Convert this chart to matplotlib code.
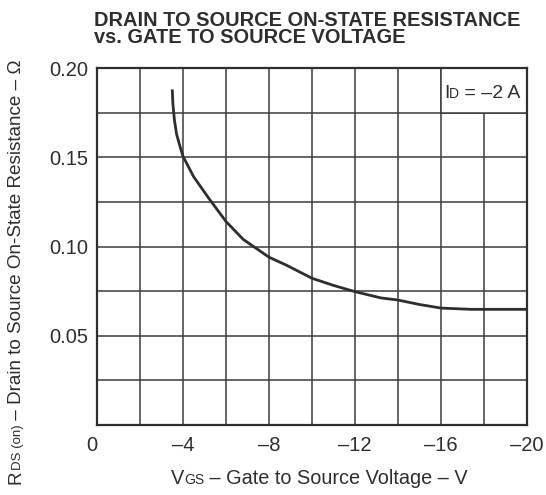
import matplotlib.pyplot as plt
from matplotlib.patches import Rectangle

plt.rcParams['font.family'] = ['Liberation Sans', 'DejaVu Sans']

vgs = [-3.5, -3.53, -3.6, -3.7, -3.85, -4.0, -4.5, -5.2, -6.0, -6.8, -7.4, -8.0, -8.8,
       -10.0, -11.0, -12.0, -13.2, -14.0, -15.0, -16.0, -17.4, -18.5, -20.0]
rds_on = [0.188, 0.180, 0.171, 0.163, 0.1565, 0.1505, 0.139, 0.127, 0.114, 0.104, 0.099,
          0.094, 0.0896, 0.0822, 0.0782, 0.0747, 0.0712, 0.070, 0.0675, 0.0655,
          0.0648, 0.0648, 0.0648]

x_ticks = [0, -4, -8, -12, -16, -20]
x_ticklabels = ['0', '–4', '–8', '–12', '–16', '–20']
y_ticks = [0.05, 0.10, 0.15, 0.20]
y_ticklabels = ['0.05', '0.10', '0.15', '0.20']

W, H = 546, 495
ink = '#2e2e2e'
grid_c = '#3c3c3c'

fig = plt.figure(figsize=(W / 100, H / 100), dpi=100)
ax = fig.add_axes([97 / W, 1 - 425 / H, 430 / W, 357 / H])

ax.plot(vgs, rds_on, color=ink, lw=2.0, zorder=3, solid_capstyle='butt',
        solid_joinstyle='round')

ax.set_xlim(0, -20)
ax.set_ylim(0, 0.20)
ax.set_xticks(x_ticks)
ax.set_xticklabels(x_ticklabels)
ax.set_xticks([-2, -6, -10, -14, -18], minor=True)
ax.set_yticks(y_ticks)
ax.set_yticklabels(y_ticklabels)
ax.set_yticks([0.025, 0.075, 0.125, 0.175], minor=True)
ax.grid(True, which='both', color=grid_c, lw=1.1)
ax.set_axisbelow(True)
ax.tick_params(which='both', length=0, labelsize=14.5, labelcolor=ink)
ax.tick_params(axis='x', pad=8)
ax.tick_params(axis='y', pad=6)
ax.get_xticklabels()[0].set_horizontalalignment('right')
for sp in ax.spines.values():
    sp.set_linewidth(1.6)
    sp.set_color(ink)

# label box in the upper right cells
ax.add_patch(Rectangle((-16, 0.175), -4, 0.025, facecolor='white',
                       edgecolor=grid_c, lw=1.1, zorder=2))

renderer = fig.canvas.get_renderer()


def chain(pieces, x0, y0, rotation=0):
    # lay text pieces of different sizes one after another on a baseline
    x, y = x0, H - y0
    for s, size in pieces:
        t = fig.text(x / W, y / H, s, fontsize=size, color=ink, rotation=rotation,
                     rotation_mode='anchor', ha='left', va='baseline')
        bb = t.get_window_extent(renderer)
        if rotation == 90:
            y = bb.y1
        else:
            x = bb.x1


chain([('I', 14), ('D', 10), (' = –2 A', 14)], 444, 98)
chain([('V', 14.3), ('GS', 10), (' – Gate to Source Voltage – V', 14.3)], 171, 484)
chain([('R', 13.6), ('DS (on)', 9.5), (' – Drain to Source On-State Resistance – Ω', 13.6)],
      21, 484, rotation=90)

fig.text(94 / W, 1 - 11 / H, 'DRAIN TO SOURCE ON-STATE RESISTANCE\nvs. GATE TO SOURCE VOLTAGE',
         fontsize=14.4, weight='bold', color=ink, ha='left', va='top', linespacing=0.86)

fig.savefig('out.png', dpi=100)
